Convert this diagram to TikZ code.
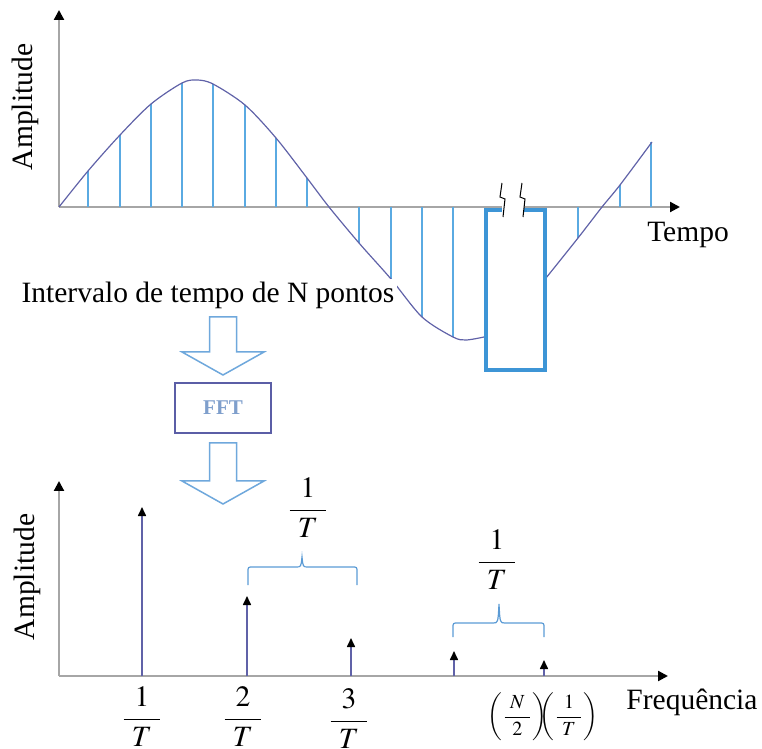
\documentclass[tikz,border=0pt]{standalone}
\usepackage{amsmath}
\usepackage{mathptmx}
\usepackage{fontspec}
\setmainfont{Liberation Serif}
\usetikzlibrary{arrows.meta,calc}

\definecolor{axisgray}{HTML}{A6A6A6}
\definecolor{wavecol}{HTML}{6062A8}
\definecolor{samplecol}{HTML}{5AAAE2}
\definecolor{windowcol}{HTML}{3D95D6}
\definecolor{fftcol}{HTML}{5B5EA6}
\definecolor{ffttext}{HTML}{7F9FCC}
\definecolor{hollowcol}{HTML}{6FA8DC}
\definecolor{bracecol}{HTML}{5B9BD5}

\newcommand\wfrac[2]{\dfrac{\mkern5mu#1\mkern5mu}{\mkern5mu#2\mkern5mu}}

\begin{document}
\begin{tikzpicture}[
  x=0.5pt, y=-0.5pt,
  font=\fontsize{14.75}{17}\selectfont,
  axis/.style={draw=axisgray, line width=1.1pt},
  axisarrow/.style={axis, -{Triangle[width=5pt,length=5pt,color=black]}},
  wave/.style={draw=wavecol, line width=0.6pt},
  sample/.style={draw=samplecol, line width=0.8pt},
  window/.style={draw=windowcol, line width=2pt},
  spike/.style={draw=wavecol, line width=0.8pt,
                -{Triangle[width=4pt,length=4.5pt,color=black]}},
  fftbox/.style={draw=fftcol, line width=0.8pt, minimum width=48pt,
                 minimum height=25pt, text=ffttext,
                 font=\fontsize{10.5}{12}\selectfont\bfseries},
  hollow/.style={draw=hollowcol, line width=0.75pt, fill=white},
  bracket/.style={draw=bracecol, line width=0.6pt}
]
\useasboundingbox (0,0) rectangle (762,749);

% time signal
\coordinate (o1) at (59,207);
\coordinate (brkL) at (502,207);
\coordinate (brkR) at (524,207);
\draw[axisarrow] (o1) -- (59,10);
\draw[axis] (o1) -- (brkL);
\draw[axisarrow] (brkR) -- (680,207);

\foreach \x/\y in {88/171, 120/135, 151/104, 182/83, 213/84, 245/105,
                   276/138, 307/178, 359/243, 391/279, 422/317, 453/337,
                   578/238, 620/185, 651/142}
  \draw[sample] (\x,207) -- (\x,\y);

\draw[wave] plot[smooth] coordinates {(59,207) (88,171) (120,135) (151,104)
  (182,83) (197,80) (213,84) (245,105) (276,138) (307,178) (329,207)
  (359,243) (391,279) (422,317) (453,337) (466,340) (484,337)};
\draw[wave] plot[smooth] coordinates {(546,278) (578,238) (602,207)
  (620,185) (652,142)};

% window of N points
\draw[window] (502,210) -- (486,210) -- (486,370) -- (545,370)
  -- (545,210) -- (524,210);
\foreach \d in {0,20}
  \draw[black, line width=0.5pt] (502+\d,183) -- (500+\d,197)
    -- (505+\d,199) -- (503+\d,217);

\node[rotate=90] (amp1) at (25,107) {Amplitude};
\node (tempo) at (688,235) {Tempo};
\node[fill=white, inner sep=1.5pt] (interval) at (208,295)
  {Intervalo de tempo de N pontos};

% FFT step
\foreach \t/\b in {317/352, 443/481}
  \draw[hollow] (209.5,\t) -- (209.5,\b) -- (182,\b) -- (223,\b+23)
    -- (264,\b) -- (236.5,\b) -- (236.5,\t) -- cycle;
\node[fftbox] (fft) at (223,408) {FFT};

% spectrum
\coordinate (o2) at (59,676);
\draw[axisarrow] (o2) -- (59,481);
\draw[axisarrow] (o2) -- (668,676);

\foreach \x/\y in {142/507, 247/596, 351/638, 454/651, 544/660}
  \draw[spike] (\x,676) -- (\x,\y);

\foreach \a/\b/\c/\h/\t/\m in {248/357/585/567/557/302,
                               453/544/637/623/604/499}
  \draw[bracket] (\a,\c) -- (\a,\h+5) .. controls (\a,\h) .. (\a+5,\h)
    -- (\m-6,\h) .. controls (\m-1,\h) .. (\m,\t)
    .. controls (\m+1,\h) .. (\m+6,\h) -- (\b-5,\h)
    .. controls (\b,\h) .. (\b,\h+5) -- (\b,\c);

\node (df1) at (308,508) {$\wfrac{1}{T}$};
\node (df2) at (497,560) {$\wfrac{1}{T}$};

\node (f1) at (142,717) {$\wfrac{1}{T}$};
\node (f2) at (243,717) {$\wfrac{2}{T}$};
\node (f3) at (349,719) {$\wfrac{3}{T}$};
\node[font=\fontsize{10}{12}\selectfont] (fn) at (543,717)
  {$\left(\wfrac{N}{2}\right)\mkern-9mu\left(\wfrac{1}{T}\right)$};

\node[rotate=90] (amp2) at (27,577) {Amplitude};
\node (freq) at (692,702) {Frequência};
\end{tikzpicture}
\end{document}
